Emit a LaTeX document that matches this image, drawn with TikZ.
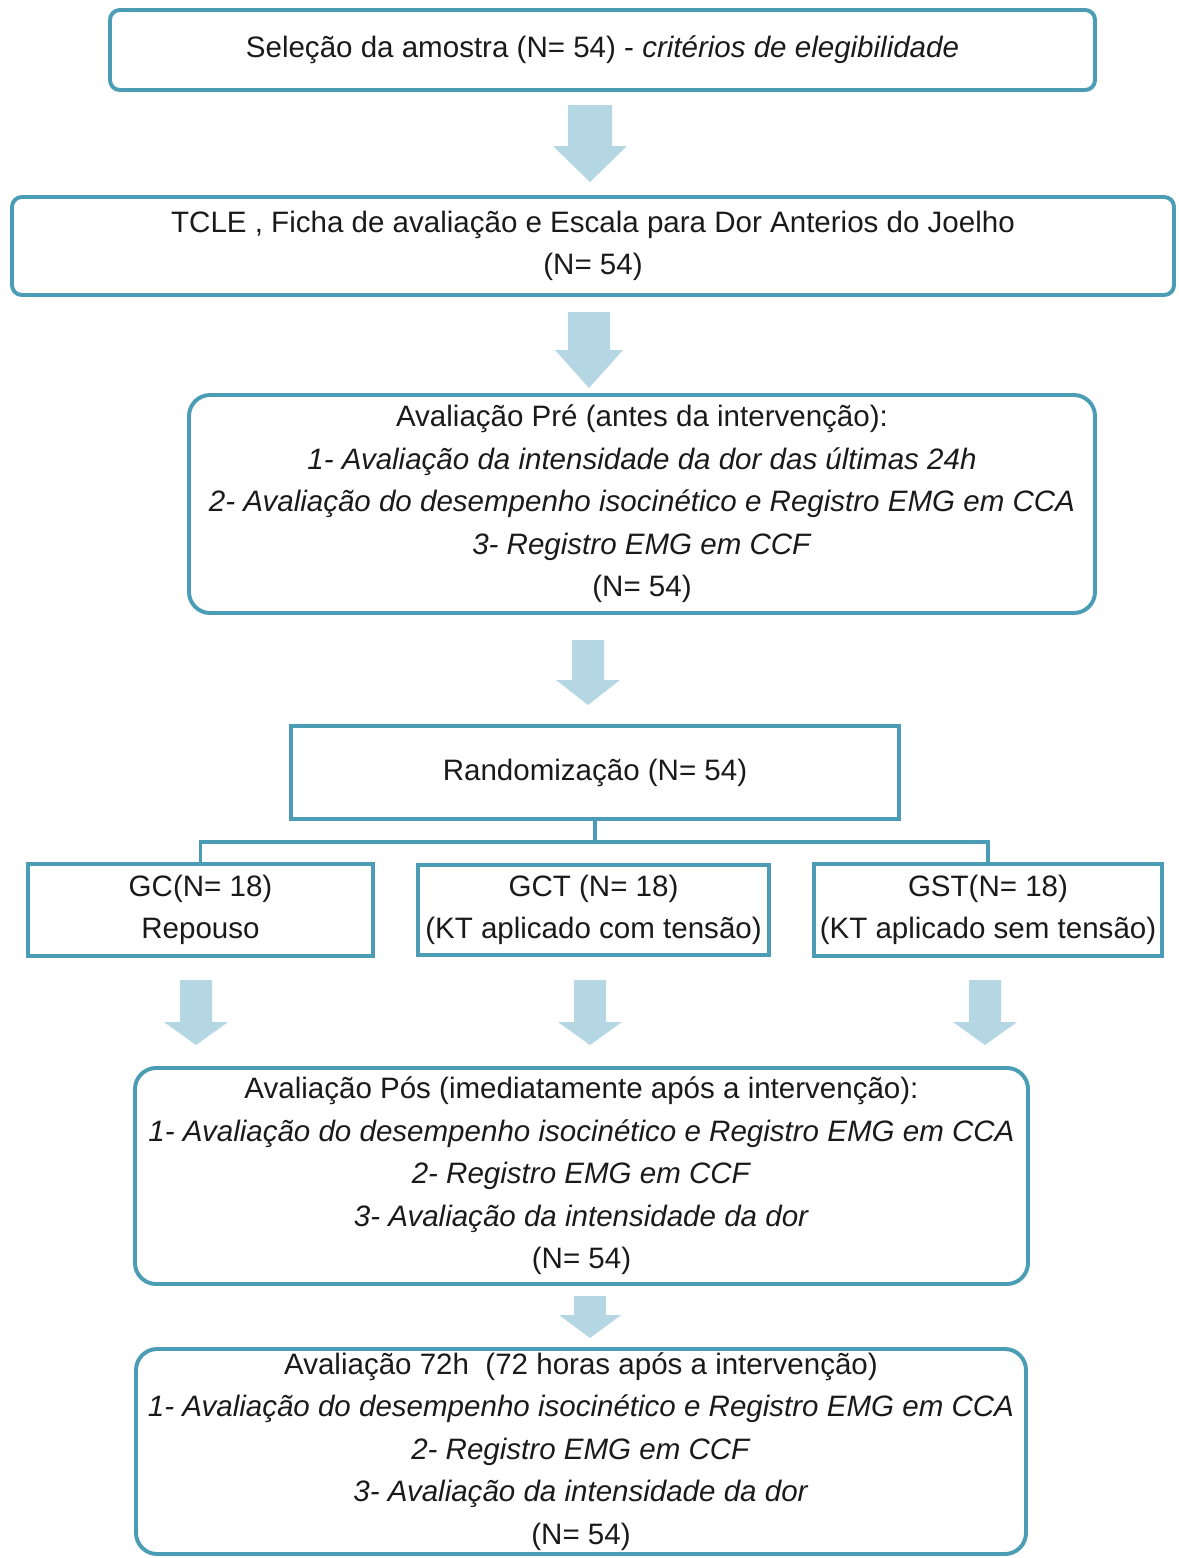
\documentclass[tikz,border=0pt]{standalone}
\usepackage{fontspec}
\setmainfont{Liberation Sans}
\definecolor{boxline}{HTML}{4A9DB5}
\definecolor{arrowfill}{HTML}{B5D7E3}
\definecolor{txt}{HTML}{1A1A1A}
\newcommand{\blockdown}[6]{\fill[arrowfill] (#1-#5,#2) -- (#1+#5,#2) -- (#1+#5,#3) -- (#1+#6,#3) -- (#1,#4) -- (#1-#6,#3) -- (#1-#5,#3) -- cycle;}
\tikzset{
  boxsize/.style 2 args={minimum width=#1*0.025cm, minimum height=#2*0.025cm},
  base/.style={draw=boxline, line width=2.8pt, inner sep=0pt, align=center, text=txt,
    font=\fontsize{21}{30.2}\selectfont},
  rbox/.style={base, rounded corners=7pt},
  rrbox/.style={base, rounded corners=15pt},
  sbox/.style={base},
  conn/.style={draw=boxline, line width=2.8pt},
}
\begin{document}
\begin{tikzpicture}[x=0.025cm,y=-0.025cm]
\useasboundingbox (0,0) rectangle (1178,1558);
\node[rbox, boxsize={985}{80}] (sel) at (602.5,50) {Seleção da amostra (N= 54) - \textit{critérios de elegibilidade}};
\node[rbox, boxsize={1162}{98}] (tcle) at (593,246) {TCLE , Ficha de avaliação e Escala para Dor Anterios do Joelho\\(N= 54)};
\node[rrbox, boxsize={906}{218}] (pre) at (642,504) {Avaliação Pré (antes da intervenção):\\
\textit{1- Avaliação da intensidade da dor das últimas 24h}\\
\textit{2- Avaliação do desempenho isocinético e Registro EMG em CCA}\\
\textit{3- Registro EMG em CCF}\\
(N= 54)};
\node[sbox, boxsize={608}{93}] (rand) at (595,772.5) {Randomização (N= 54)};
\node[sbox, boxsize={345}{92}] (gc) at (200.5,910) {GC(N= 18)\\Repouso};
\node[sbox, boxsize={351}{90}] (gct) at (593.5,910) {GCT (N= 18)\\(KT aplicado com tensão)};
\node[sbox, boxsize={348}{92}] (gst) at (988,910) {GST(N= 18)\\(KT aplicado sem tensão)};
\node[rrbox, boxsize={893}{216}] (pos) at (581.5,1176) {Avaliação Pós (imediatamente após a intervenção):\\
\textit{1- Avaliação do desempenho isocinético e Registro EMG em CCA}\\
\textit{2- Registro EMG em CCF}\\
\textit{3- Avaliação da intensidade da dor}\\
(N= 54)};
\node[rrbox, boxsize={890}{205}] (h72) at (581,1451.5) {Avaliação 72h~ (72 horas após a intervenção)\\
\textit{1- Avaliação do desempenho isocinético e Registro EMG em CCA}\\
\textit{2- Registro EMG em CCF}\\
\textit{3- Avaliação da intensidade da dor}\\
(N= 54)};
% connectors
\coordinate (j) at (595,842);
\draw[conn] (rand.south -| j) -- (j);
\draw[conn] (gc.north) -- (gc.north |- j) -- (gst.north |- j) -- (gst.north);
% block arrows
\blockdown{590}{105}{146}{182}{22}{37}
\blockdown{589}{312}{350}{388}{21}{34}
\blockdown{588}{640}{680}{705}{16}{32}
\blockdown{196}{980}{1022}{1045}{16}{32}
\blockdown{590}{980}{1022}{1045}{16}{32}
\blockdown{985}{980}{1022}{1045}{16}{32}
\blockdown{590}{1296}{1315}{1338}{16}{31}
\end{tikzpicture}
\end{document}
